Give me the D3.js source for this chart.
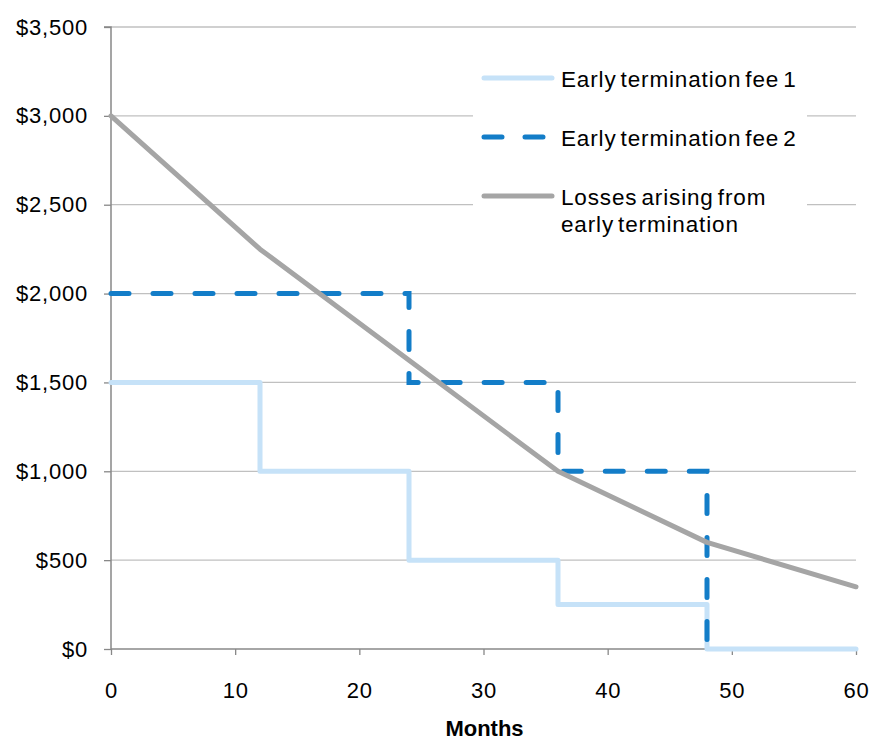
<!DOCTYPE html>
<html>
<head>
<meta charset="utf-8">
<script src="https://cdn.jsdelivr.net/npm/d3@7"></script>
<style>
  body { margin: 0; background: #fff; }
  svg { display: block; font-family: "Liberation Sans", Arial, sans-serif; }
  .tick text { font-size: 22px; fill: #000; font-family: "Liberation Sans", Arial, sans-serif; letter-spacing: 0.8px; }
  .legend text { font-size: 22.5px; fill: #000; letter-spacing: 0.85px; word-spacing: -3px; }
</style>
</head>
<body>
<div id="chart"></div>
<script>
// Months and values
const fee1Months = [0, 12, 24, 36, 48, 60];
const fee1Values = [1500, 1000, 500, 250, 0, 0];
const fee2Months = [0, 24, 36, 48];
const fee2Values = [2000, 1500, 1000, 0];
const lossMonths = [0, 12, 24, 36, 48, 60];
const lossValues = [3000, 2250, 1625, 1000, 600, 350];
const xTicks = [0, 10, 20, 30, 40, 50, 60];
const yTicks = [0, 500, 1000, 1500, 2000, 2500, 3000, 3500];
const legendLabels = ['Early termination fee 1', 'Early termination fee 2', ['Losses arising from', 'early termination']];

const width = 872, height = 742;
const margin = { left: 111, right: 16, top: 27, bottom: 93 };

const svg = d3.select('#chart').append('svg')
  .attr('width', width)
  .attr('height', height);

const x = d3.scaleLinear().domain([0, 60]).range([margin.left, width - margin.right]);
const y = d3.scaleLinear().domain([0, 3500]).range([height - margin.bottom, margin.top]);

// gridlines
svg.append('g').selectAll('line').data(yTicks.filter(d => d > 0)).enter().append('line')
  .attr('x1', x(0)).attr('x2', x(60))
  .attr('y1', d => y(d)).attr('y2', d => y(d))
  .attr('stroke', '#c0c0c0').attr('stroke-width', 1.3);

// axes
const yAxis = svg.append('g').attr('transform', `translate(${x(0)},0)`)
  .call(d3.axisLeft(y).tickValues(yTicks).tickSize(7).tickPadding(16)
    .tickFormat(d => '$' + d3.format(',')(d)));
const xAxis = svg.append('g').attr('transform', `translate(0,${y(0)})`)
  .call(d3.axisBottom(x).tickValues(xTicks).tickSize(6).tickPadding(27));
[yAxis, xAxis].forEach(a => {
  a.select('.domain').attr('stroke', '#888').attr('stroke-width', 1.5);
  a.selectAll('.tick line').attr('stroke', '#888').attr('stroke-width', 1.3);
});
xAxis.select('.domain').attr('d', `M${x(0)},0H${x(60)}`);
yAxis.select('.domain').attr('d', `M-7,${y(3500)}H0V${y(0)}`);

svg.append('text')
  .attr('x', (x(0) + x(60)) / 2 + 1).attr('y', 736)
  .attr('text-anchor', 'middle')
  .attr('font-size', 22).attr('font-weight', 'bold')
  .text('Months');

// legend box (covers gridlines)
svg.append('rect').attr('x', 473).attr('y', 55).attr('width', 334).attr('height', 185).attr('fill', '#fff');

const stepLine = d3.line().x(d => x(d[0])).y(d => y(d[1])).curve(d3.curveStepAfter);
const plainLine = d3.line().x(d => x(d[0])).y(d => y(d[1]));

svg.append('path')
  .datum(fee1Months.map((m, i) => [m, fee1Values[i]]))
  .attr('d', stepLine)
  .attr('fill', 'none').attr('stroke', '#c6e2f8').attr('stroke-width', 5)
  .attr('stroke-linejoin', 'round').attr('stroke-linecap', 'round');

svg.append('path')
  .datum(fee2Months.map((m, i) => [m, fee2Values[i]]))
  .attr('d', stepLine)
  .attr('fill', 'none').attr('stroke', '#137dc8').attr('stroke-width', 5)
  .attr('stroke-dasharray', '18,24')
  .attr('stroke-linecap', 'round');

svg.append('path')
  .datum(lossMonths.map((m, i) => [m, lossValues[i]]))
  .attr('d', plainLine)
  .attr('fill', 'none').attr('stroke', '#a5a5a5').attr('stroke-width', 5)
  .attr('stroke-linejoin', 'round').attr('stroke-linecap', 'round');

// legend
const legend = svg.append('g').attr('class', 'legend');
const legendStyles = [
  { color: '#c6e2f8', dash: null, y: 78 },
  { color: '#137dc8', dash: '18,23', y: 137 },
  { color: '#a5a5a5', dash: null, y: 196 }
];
legendStyles.forEach((s, i) => {
  legend.append('line')
    .attr('x1', 484).attr('x2', 552).attr('y1', s.y).attr('y2', s.y)
    .attr('stroke', s.color).attr('stroke-width', 5)
    .attr('stroke-linecap', 'round')
    .attr('stroke-dasharray', s.dash);
  const lines = Array.isArray(legendLabels[i]) ? legendLabels[i] : [legendLabels[i]];
  lines.forEach((t, j) => {
    legend.append('text')
      .attr('x', 561).attr('y', s.y + 9 + j * 27)
      .text(t);
  });
});
</script>
</body>
</html>
